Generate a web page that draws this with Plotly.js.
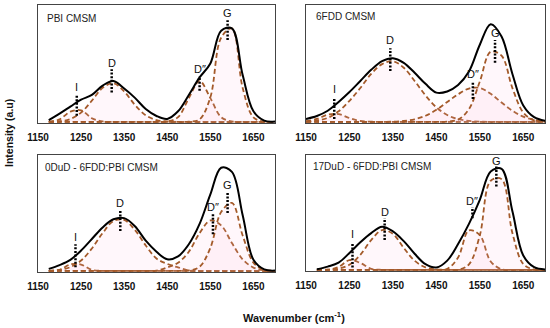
<!DOCTYPE html>
<html>
<head>
<meta charset="utf-8">
<script src="https://cdn.plot.ly/plotly-3.0.1.min.js"></script>
<style>html,body{margin:0;padding:0;background:#fff;}#chart{width:550px;height:328px;}</style>
</head>
<body>
<div id="chart"></div>
<script>
// Wavenumber grids (cm-1)
const wnA = [1175,1200,1225,1250,1275,1300,1325,1350,1375,1400,1425,1450,1475,1500,1525,1550,1575,1600,1625,1650,1675,1700];
const wnB = [1150,1175,1200,1225,1250,1275,1300,1325,1350,1375,1400,1425,1450,1475,1500,1525,1550,1575,1600,1625,1650,1675,1700];

// Panel titles
const panelTitles = ["PBI CMSM", "6FDD CMSM", "0DuD - 6FDD:PBI CMSM", "17DuD - 6FDD:PBI CMSM"];
const peakNames = ["I", "D", "D\u2033", "G"];

// Panel 1: PBI CMSM (on wnA)
const sum1 = [1.5,7,13,19,23,31,35,28.5,20.5,11,5,2.5,9,23,38,50,78,80,40,9,1,0.3];
const I1   = [0.1,2.1,8.7,9.9,3.1,0.3,0,0,0,0,0,0,0,0,0,0,0,0,0,0,0,0];
const D1   = [0.1,0.5,2.4,7.9,18.1,29.1,33,26,14.5,5.6,1.5,0.3,0,0,0,0,0,0,0,0,0,0];
const Dpp1 = [0,0,0,0,0,0,0,0,0,0,0,0.3,4,20.3,35,20.3,4,0.3,0,0,0,0];
const G1   = [0,0,0,0,0,0,0,0,0,0,0,0,0,0.1,2.1,21,72,80,29,3.8,0.2,0];

// Panel 2: 6FDD CMSM (on wnB)
const sum2 = [2.5,5,9.5,17,25.5,35,44.5,52,54.5,50.5,42,32.5,25,26,31.5,43,66,83.5,73,41,14,4,1];
const I2   = [0.5,2.5,6.1,6.6,3.2,0.7,0.1,0,0,0,0,0,0,0,0,0,0,0,0,0,0,0,0];
const D2   = [0.4,1.2,3.4,9,18,29,41,49.4,51.8,46.3,35,22.6,12.4,5.8,2.3,0.8,0.2,0,0,0,0,0,0];
const Dpp2 = [0,0,0,0,0,0,0,0,0.2,0.8,2.2,5.2,10.3,17,23.6,28.5,29,24,16.5,9.5,4.4,1.8,0.6];
const G2   = [0,0,0,0,0,0,0,0,0,0,0,0,0,0.2,1.9,10.8,34.5,60,56.6,28.9,8,1.2,0.1];

// Panel 3: 0DuD - 6FDD:PBI CMSM (on wnA)
const sum3 = [1.7,5,9.5,17.5,27.5,37.5,44.5,45.5,38.5,26,16.5,10,12.5,23,40.5,66,89,85.5,48,9.5,1.2,0.2];
const I3   = [0,0.8,5.6,5.4,0.8,0,0,0,0,0,0,0,0,0,0,0,0,0,0,0,0,0];
const D3   = [0.2,0.9,3.2,8.9,19.3,32.6,43,44,35.2,21.9,10.6,6,3,0.3,0,0,0,0,0,0,0,0];
const Dpp3 = [0,0,0,0,0,0,0,0,0,0,0.2,3,7,16.5,32.6,43.5,39.3,24,9.9,2.8,0.5,0];
const G3   = [0,0,0,0,0,0,0,0,0,0,0,0,0,0.3,3.5,19.8,50.7,58.6,30.5,7.1,0.7,0];

// Panel 4: 17DuD - 6FDD:PBI CMSM (on wnA)
const sum4 = [0.5,2.8,6.3,14.7,24,32,37.5,33.5,25,14,4.9,2,8,22.5,40,61,85.6,88,51,12.5,2.3,0.4];
const I4   = [0,0.2,2.5,8.5,6,0.9,0,0,0,0,0,0,0,0,0,0,0,0,0,0,0,0];
const D4   = [0,0.2,1,4.5,13.1,25.9,34.6,31.3,19.1,7.9,2.2,0.4,0,0,0,0,0,0,0,0,0,0];
const Dpp4 = [0,0,0,0,0,0,0,0,0,0,0,0,0.9,10.7,34.4,30.2,7.3,0.5,0,0,0,0];
const G4   = [0,0,0,0,0,0,0,0,0,0,0,0,0,0,4.7,30,77.6,79,32,5.1,0.3,0];

// Peak marker positions, label heights and dotted segment ends
const peakPos1 = [1240,1321,1525,1590], labelY1 = [30,50.6,45,93.5], dotTop1 = [23.7,45,39,87], dotBot1 = [5.3,25,26.5,70];
const peakPos2 = [1215,1344,1534,1585], labelY2 = [28,70,40.7,76],   dotTop2 = [21,63,35,70],     dotBot2 = [2.5,43.5,19.5,50.6];
const peakPos3 = [1237,1341,1556,1590], labelY3 = [28.8,58.7,55,74.4], dotTop3 = [23,53,50,68.7], dotBot3 = [3,34.5,31.6,50];
const peakPos4 = [1257,1331,1533,1588], labelY4 = [30.8,50,59.7,94.8], dotTop4 = [23.6,45,54.8,90], dotBot4 = [2,26,45,72.6];

const panels = [
  {wn: wnA, sum: sum1, comps: [I1, D1, Dpp1, G1], pos: peakPos1, ly: labelY1, dt: dotTop1, db: dotBot1},
  {wn: wnB, sum: sum2, comps: [I2, D2, Dpp2, G2], pos: peakPos2, ly: labelY2, dt: dotTop2, db: dotBot2},
  {wn: wnA, sum: sum3, comps: [I3, D3, Dpp3, G3], pos: peakPos3, ly: labelY3, dt: dotTop3, db: dotBot3},
  {wn: wnA, sum: sum4, comps: [I4, D4, Dpp4, G4], pos: peakPos4, ly: labelY4, dt: dotTop4, db: dotBot4}
];

const W = 550, H = 328;
const boxes = [ // [left, right, top, bottom] in px
  [38, 275, 5, 123],
  [306, 545, 5, 123],
  [38, 275, 155, 272],
  [306, 545, 155, 271]
];
const titlePx = [[45, 18], [314, 16], [43, 167], [311, 166]];

const traces = [];
const annotations = [];
const layout = {
  width: W, height: H,
  margin: {l: 0, r: 0, t: 0, b: 0},
  paper_bgcolor: '#fff', plot_bgcolor: '#fff',
  showlegend: false, hovermode: false,
  font: {family: 'Arial, Liberation Sans, sans-serif', color: '#000'}
};

panels.forEach((p, k) => {
  const n = k + 1;
  const xa = 'x' + (n === 1 ? '' : n), ya = 'y' + (n === 1 ? '' : n);
  const b = boxes[k];
  layout['xaxis' + (n === 1 ? '' : n)] = {
    domain: [b[0] / W, b[1] / W], anchor: ya,
    range: [1150, 1700], tickvals: [1150, 1250, 1350, 1450, 1550, 1650],
    ticktext: ['<b>1150</b>', '<b>1250</b>', '<b>1350</b>', '<b>1450</b>', '<b>1550</b>', '<b>1650</b>'],
    ticks: 'outside', ticklen: 5, tickcolor: 'rgba(0,0,0,0)',
    tickfont: {size: 10, color: '#111', family: 'Arial, Liberation Sans, sans-serif'},
    showline: true, mirror: true, linecolor: '#444', linewidth: 1,
    showgrid: false, zeroline: false, fixedrange: true
  };
  layout['yaxis' + (n === 1 ? '' : n)] = {
    domain: [1 - b[3] / H, 1 - b[2] / H], anchor: xa,
    range: [-1, 100], showticklabels: false, ticks: '',
    showline: true, mirror: true, linecolor: '#444', linewidth: 1,
    showgrid: false, zeroline: false, fixedrange: true
  };
  // components: faint pink fill + brown dashed
  p.comps.forEach(c => {
    traces.push({
      x: p.wn, y: c, xaxis: xa, yaxis: ya, type: 'scatter', mode: 'lines',
      line: {shape: 'spline', smoothing: 1, color: '#A45A2A', width: 1.8, dash: '5px,3px'},
      fill: 'tozeroy', fillcolor: 'rgba(255,190,220,0.12)'
    });
  });
  // envelope
  traces.push({
    x: p.wn, y: p.sum, xaxis: xa, yaxis: ya, type: 'scatter', mode: 'lines',
    line: {shape: 'spline', smoothing: 1, color: '#000', width: 2}
  });
  // dotted peak markers and labels
  p.pos.forEach((x, i) => {
    traces.push({
      x: [x, x], y: [p.db[i], p.dt[i]], xaxis: xa, yaxis: ya, type: 'scatter', mode: 'lines',
      line: {color: '#000', width: 2.5, dash: '2px,1.6px'}
    });
    annotations.push({
      xref: xa, yref: ya, x: x, y: p.ly[i], text: peakNames[i], showarrow: false,
      xanchor: 'center', yanchor: 'middle', font: {size: 11, color: '#111'}
    });
  });
  annotations.push({
    xref: 'paper', yref: 'paper', x: titlePx[k][0] / W, y: 1 - titlePx[k][1] / H,
    xanchor: 'left', yanchor: 'middle', text: panelTitles[k], showarrow: false,
    font: {size: 10, color: '#222'}
  });
});

annotations.push({
  xref: 'paper', yref: 'paper', x: 294 / W, y: 1 - 317 / H, xanchor: 'center', yanchor: 'middle',
  text: '<b>Wavenumber (cm<sup>-1</sup>)</b>', showarrow: false, font: {size: 11, color: '#111'}
});
annotations.push({
  xref: 'paper', yref: 'paper', x: 9 / W, y: 1 - 133 / H, xanchor: 'center', yanchor: 'middle',
  text: '<b>Intensity (a.u)</b>', textangle: -90, showarrow: false, font: {size: 10.5, color: '#111'}
});
layout.annotations = annotations;

Plotly.newPlot('chart', traces, layout, {staticPlot: true, displayModeBar: false});
</script>
</body>
</html>
